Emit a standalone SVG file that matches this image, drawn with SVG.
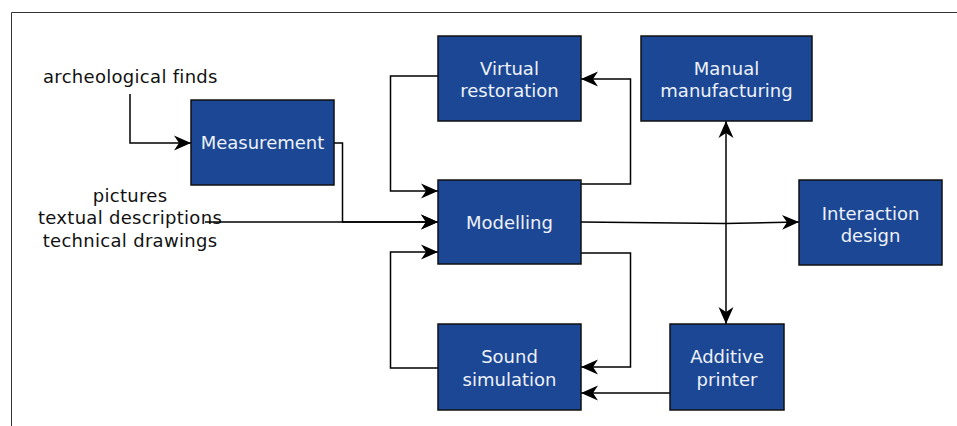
<svg xmlns="http://www.w3.org/2000/svg" width="957" height="426" viewBox="0 0 957 426">
<defs>
<marker id="arr" markerUnits="userSpaceOnUse" markerWidth="18" markerHeight="16" viewBox="0 0 18 16" refX="17" refY="8" orient="auto">
<path d="M0,0.5 L17,8 L0,15.5 L5,8 z" fill="#000"/>
</marker>
<marker id="arrs" markerUnits="userSpaceOnUse" markerWidth="18" markerHeight="16" viewBox="0 0 18 16" refX="17" refY="8" orient="auto-start-reverse">
<path d="M0,0.5 L17,8 L0,15.5 L5,8 z" fill="#000"/>
</marker>
</defs>
<style>
.box{fill:#1b4794;stroke:#111;stroke-width:1.5}
.bt{font-family:"DejaVu Sans",sans-serif;font-size:18px;fill:#eef2fa;text-anchor:middle}
.lt{font-family:"DejaVu Sans",sans-serif;font-size:18px;letter-spacing:0.3px;fill:#111}
.c{fill:none;stroke:#000;stroke-width:1.5}
</style>
<rect width="957" height="426" fill="#fff"/>
<path d="M11.5,426 V12.5 H957" fill="none" stroke="#333" stroke-width="1"/>
<g id="labels">
<text class="lt" x="43" y="83">archeological finds</text>
<text class="lt" x="130" y="202" text-anchor="middle">pictures</text>
<text class="lt" x="130" y="224" text-anchor="middle">textual descriptions</text>
<text class="lt" x="130" y="247" text-anchor="middle">technical drawings</text>
</g>
<g id="connectors">
<path class="c" d="M130,94 V143 H191" marker-end="url(#arr)"/>
<path class="c" d="M334,143 H342.5 V222 H438" marker-end="url(#arr)"/>
<path class="c" d="M205,222 H438" marker-end="url(#arr)"/>
<path class="c" d="M438,76 H390.5 V191 H438" marker-end="url(#arr)"/>
<path class="c" d="M581,184 H630.5 V79 H581" marker-end="url(#arr)"/>
<path class="c" d="M581,222 L725,223.5 L799,222" marker-end="url(#arr)"/>
<path class="c" d="M726,121 V324" marker-start="url(#arrs)" marker-end="url(#arr)"/>
<path class="c" d="M438,368 H390.5 V252 H438" marker-end="url(#arr)"/>
<path class="c" d="M581,253 H630.5 V367 H581" marker-end="url(#arr)"/>
<path class="c" d="M670,393 H581" marker-end="url(#arr)"/>
</g>
<g id="measurement"><rect class="box" x="191" y="100" width="143" height="85"/><text class="bt" x="262.5" y="149">Measurement</text></g>
<g id="virtual-restoration"><rect class="box" x="438" y="36" width="143" height="85"/><text class="bt" x="509.5" y="75">Virtual</text><text class="bt" x="509.5" y="97">restoration</text></g>
<g id="manual-manufacturing"><rect class="box" x="641" y="36" width="171" height="85"/><text class="bt" x="726.5" y="75">Manual</text><text class="bt" x="726.5" y="97">manufacturing</text></g>
<g id="modelling"><rect class="box" x="438" y="180" width="143" height="84"/><text class="bt" x="509.5" y="229">Modelling</text></g>
<g id="interaction-design"><rect class="box" x="799" y="180" width="143" height="85"/><text class="bt" x="870.5" y="220">Interaction</text><text class="bt" x="870.5" y="242">design</text></g>
<g id="sound-simulation"><rect class="box" x="438" y="324" width="143" height="86"/><text class="bt" x="509.5" y="363">Sound</text><text class="bt" x="509.5" y="386">simulation</text></g>
<g id="additive-printer"><rect class="box" x="670" y="324" width="114" height="86"/><text class="bt" x="727" y="363">Additive</text><text class="bt" x="727" y="386">printer</text></g>
</svg>
